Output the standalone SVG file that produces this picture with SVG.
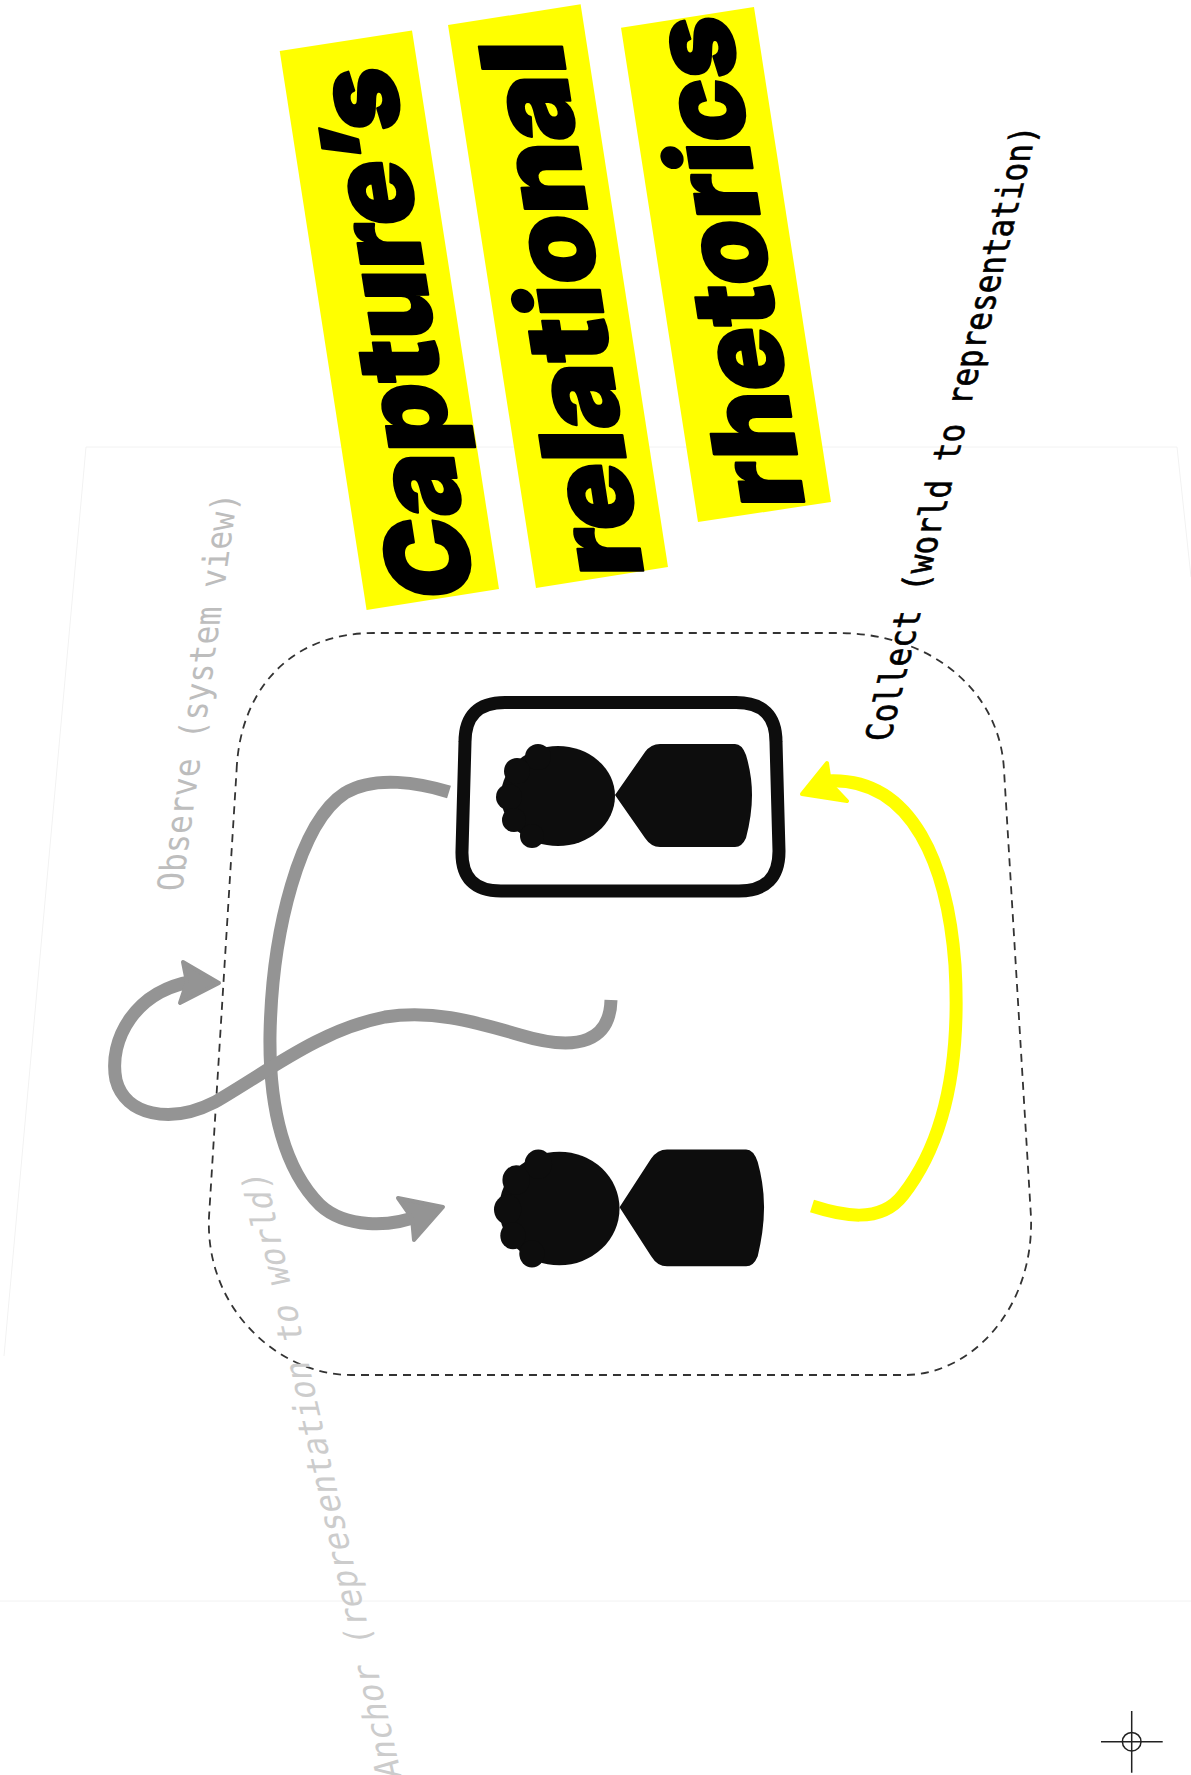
<svg xmlns="http://www.w3.org/2000/svg" width="1191" height="1775" viewBox="0 0 1191 1775">
<style>
.banner{fill:#ffff00}
.title{font-family:"Inter","Roboto","Liberation Sans",sans-serif;font-weight:900;font-size:114px;fill:#000;stroke:#000;stroke-width:2.5;stroke-linejoin:round}
.lab{font-family:"DejaVu Sans Mono","Liberation Mono",monospace}
.faint{fill:none;stroke:#f2f2f2;stroke-width:1}
.flow{fill:none;stroke-width:13}
.gray{stroke:#949494}
.yellow{stroke:#ffff00}
.head-gray{fill:#949494;stroke:#949494;stroke-width:4;stroke-linejoin:round}
.head-yellow{fill:#ffff00;stroke:#ffff00;stroke-width:4;stroke-linejoin:round}
</style>
<defs>
<g id="person" fill="#0d0d0d">
<ellipse cx="558" cy="796" rx="57" ry="50"/>
<circle cx="538" cy="757" r="13"/><circle cx="517" cy="771" r="13"/><circle cx="509" cy="797" r="13"/><circle cx="514" cy="820" r="12"/><circle cx="532" cy="836" r="12"/>
<path d="M615,795 L645,752 Q651,744 660,744 L735,744 Q742,744 746,755 Q752,775 752,795 Q752,815 746,838 Q742,847 735,847 L660,847 Q651,847 645,838 Z"/>
</g>
</defs>
<rect width="1191" height="1775" fill="#fff"/>
<g id="backdrop">
<path class="faint" d="M4,1356 L86,447 L1177,447 L1191,577"/>
<path class="faint" d="M0,1601 L1191,1601"/>
</g>
<g id="boundary"><path d="M236.6,770 C240,690 290,633 374,633 L838,633 C930,633 1000,690 1004,770 L1031,1217 C1034,1310 970,1375 905,1375 L351,1375 C280,1375 205,1310 209,1217 Z" fill="none" stroke="#333" stroke-width="1.8" stroke-dasharray="8 6"/></g>
<g id="banner-1"><polygon class="banner" points="279.7,51 412,30.4 499,589 366.6,610"/><text class="title" transform="matrix(-0.155,-1,1,0,475,598)" textLength="531" lengthAdjust="spacingAndGlyphs">Capture’s</text></g>
<g id="banner-2"><polygon class="banner" points="448,25 580.6,4.3 668,567 536,588"/><text class="title" transform="matrix(-0.155,-1,1,0,644,576)" textLength="535" lengthAdjust="spacingAndGlyphs">relational</text></g>
<g id="banner-3"><polygon class="banner" points="621,27.7 754,7 831,502 698,522"/><text class="title" transform="matrix(-0.155,-1,1,0,805,507)" textLength="491" lengthAdjust="spacingAndGlyphs">rhetorics</text></g>
<g id="node-representation">
<path d="M505,702.5 L736,702.5 Q776,702.5 776,742 L779,851 Q779,891 739,891 L501,891 Q461,891 462,851 L465,742 Q465,702.5 505,702.5 Z" fill="#fff" stroke="#0d0d0d" stroke-width="13"/>
<use href="#person"/>
</g>
<g id="node-world"><use href="#person" transform="matrix(1.055,0,0,1.135,-29.3,305)"/></g>
<g id="connectors">
<path class="flow gray" d="M449,792 C420,783 375,775 345,793 C300,822 272,930 270,1035 C269,1110 285,1170 320,1205 C345,1228 390,1228 420,1215"/>
<polygon class="head-gray" points="443,1207 398,1198 412,1218 414,1240"/>
<path class="flow gray" d="M611,1000 C610,1040 580,1053 520,1035 C470,1020 430,1010 385,1017 C320,1030 270,1070 215,1102 C170,1125 125,1115 116,1080 C108,1040 135,990 195,981"/>
<polygon class="head-gray" points="219,983 183,962 187,982 180,1003"/>
<path class="flow yellow" d="M812,1206 C840,1215 880,1225 903,1195 C950,1135 960,1050 955,965 C948,870 915,775 825,781"/>
<polygon class="head-yellow" points="802,794 827,763 830,783 847,801"/>
</g>
<g id="labels">
<text class="lab" fill="#bdbdbd" font-size="31.5" transform="matrix(0.14,-1,1.12,0,182,891)">Observe (system view)</text>
<text class="lab" fill="#cccccc" font-size="31.5" transform="matrix(-0.225,-1,1.12,0,402,1778)">Anchor (representation to world)</text>
<text class="lab" fill="#000" stroke="#000" stroke-width="0.6" font-size="31" transform="matrix(0.24,-1,1.15,0,890,741)">Collect (world to representation)</text>
</g>
<g id="crosshair" fill="none" stroke="#222" stroke-width="1.5"><path d="M1101,1741.7H1162.7M1131.7,1711V1772.7"/><circle cx="1131.7" cy="1741.7" r="9.3"/></g>
</svg>
